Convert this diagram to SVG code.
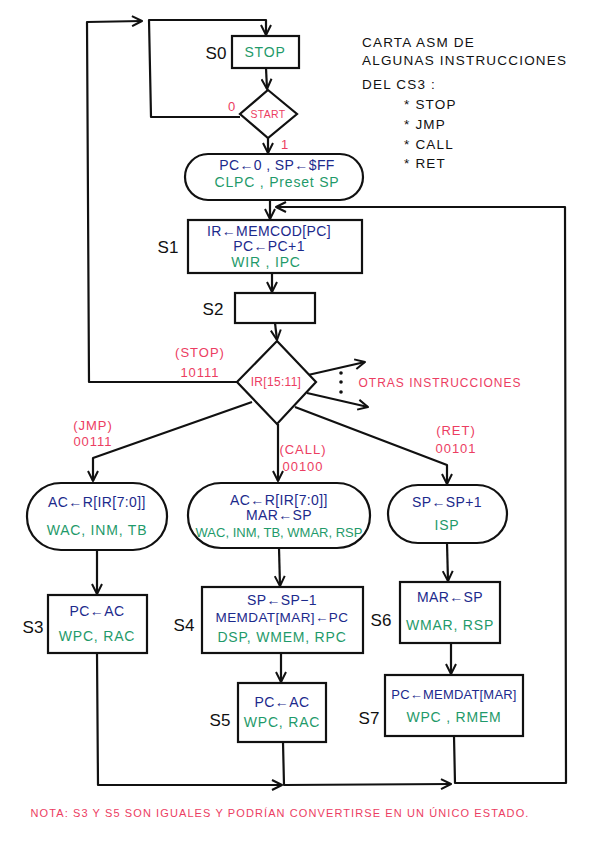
<svg xmlns="http://www.w3.org/2000/svg" width="599" height="848" viewBox="0 0 599 848">
<defs>
<marker id="ar" viewBox="0 0 12 12" refX="11" refY="6" markerWidth="12" markerHeight="12" markerUnits="userSpaceOnUse" orient="auto">
<path d="M1,1 L11,6 L1,11" fill="none" stroke="#111" stroke-width="2" stroke-linejoin="round"/>
</marker>
<style>
.ln{fill:none;stroke:#111;stroke-width:2.2;stroke-linejoin:round}
.bx{fill:#fff;stroke:#111;stroke-width:2.2}
.b{fill:#1c2a8c;font-family:"Liberation Sans",Arial,sans-serif;font-size:14px;text-anchor:middle;dominant-baseline:central;letter-spacing:0.4px}
.g{fill:#1f9a6a;font-family:"Liberation Sans",Arial,sans-serif;font-size:14px;text-anchor:middle;dominant-baseline:central;letter-spacing:0.8px}
.p{fill:#ec3d62;font-family:"Liberation Sans",Arial,sans-serif;font-size:13px;text-anchor:middle;dominant-baseline:central;letter-spacing:1px}
.k{fill:#111;font-family:"Liberation Sans",Arial,sans-serif;font-size:13.5px;dominant-baseline:central;letter-spacing:1.2px}
.s{fill:#111;font-family:"Liberation Sans",Arial,sans-serif;font-size:17px;text-anchor:middle;dominant-baseline:central}
</style>
</defs>
<rect width="599" height="848" fill="#fff"/>

<g id="connectors">
<path class="ln" d="M237,382 L89,382 L87,22 L142,21" marker-end="url(#ar)"/>
<path class="ln" d="M240,117 L151,117 L149,20 L266,20 L266,35" marker-end="url(#ar)"/>
<path class="ln" d="M266,68 L267,89" marker-end="url(#ar)"/>
<path class="ln" d="M268,138 L268,153" marker-end="url(#ar)"/>
<path class="ln" d="M270,200 L270,219" marker-end="url(#ar)"/>
<path class="ln" d="M272,273 L272,292" marker-end="url(#ar)"/>
<path class="ln" d="M275,323 L277,340" marker-end="url(#ar)"/>
<path class="ln" d="M252,402 L93,458 L93,481" marker-end="url(#ar)"/>
<path class="ln" d="M278,424 L278,481" marker-end="url(#ar)"/>
<path class="ln" d="M295,407 L447,465 L447,484" marker-end="url(#ar)"/>
<path class="ln" d="M308,375 L365,362" marker-end="url(#ar)"/>
<path class="ln" d="M307,393 L368,407" marker-end="url(#ar)"/>
<path class="ln" d="M97,550 L97,594" marker-end="url(#ar)"/>
<path class="ln" d="M279,548 L280,586" marker-end="url(#ar)"/>
<path class="ln" d="M281,653 L281,682" marker-end="url(#ar)"/>
<path class="ln" d="M447,543 L448,581" marker-end="url(#ar)"/>
<path class="ln" d="M451,643 L451,674" marker-end="url(#ar)"/>
<path class="ln" d="M97,653 L98,785 L282,785" marker-end="url(#ar)"/>
<path class="ln" d="M283,742 L284,785 L451,784" marker-end="url(#ar)"/>
<path class="ln" d="M454,736 L455,783 L566,783 L565,207 L276,207" marker-end="url(#ar)"/>
<circle cx="341" cy="373" r="1.8" fill="#111"/>
<circle cx="341" cy="382" r="1.8" fill="#111"/>
<circle cx="341" cy="392" r="1.8" fill="#111"/>
</g>

<g id="title">
<text class="k" x="362" y="42">CARTA ASM DE</text>
<text class="k" x="362" y="60">ALGUNAS INSTRUCCIONES</text>
<text class="k" x="362" y="84">DEL CS3 :</text>
<text class="k" x="404" y="104">* STOP</text>
<text class="k" x="404" y="124">* JMP</text>
<text class="k" x="404" y="144">* CALL</text>
<text class="k" x="404" y="163">* RET</text>
</g>

<g id="S0">
<rect class="bx" x="232" y="36" width="67" height="32"/>
<text class="g" x="265" y="52">STOP</text>
<text class="s" x="216" y="53">S0</text>
</g>

<g id="start">
<polygon class="bx" points="268,90 297,114 268,138 240,114"/>
<text class="p" x="268" y="114" style="font-size:10.5px;letter-spacing:0.3px">START</text>
<text class="p" x="232" y="106">0</text>
<text class="p" x="285" y="144">1</text>
</g>

<g id="init">
<rect class="bx" x="185" y="154" width="178" height="46" rx="23" ry="23"/>
<text class="b" x="277" y="165">PC←0 , SP←$FF</text>
<text class="g" x="277" y="182">CLPC , Preset SP</text>
</g>

<g id="S1">
<rect class="bx" x="188" y="220" width="174" height="53"/>
<text class="b" x="269" y="231">IR←MEMCOD[PC]</text>
<text class="b" x="269" y="246">PC←PC+1</text>
<text class="g" x="266" y="262">WIR , IPC</text>
<text class="s" x="168" y="247">S1</text>
</g>

<g id="S2">
<rect class="bx" x="235" y="293" width="80" height="30"/>
<text class="s" x="213" y="309">S2</text>
</g>

<g id="decode">
<polygon class="bx" points="277,341 316,382 277,424 237,382"/>
<text class="p" x="276" y="382" style="font-size:12px;letter-spacing:0.3px">IR[15:11]</text>
<text class="p" x="200" y="352">(STOP)</text>
<text class="p" x="200" y="372">10111</text>
<text class="p" x="93" y="425">(JMP)</text>
<text class="p" x="93" y="441">00111</text>
<text class="p" x="303" y="449">(CALL)</text>
<text class="p" x="303" y="466">00100</text>
<text class="p" x="456" y="430">(RET)</text>
<text class="p" x="456" y="448">00101</text>
<text class="p" x="440" y="383" style="font-size:12px">OTRAS INSTRUCCIONES</text>
</g>

<g id="jmp">
<rect class="bx" x="27" y="483" width="140" height="67" rx="34" ry="33"/>
<text class="b" x="97" y="502">AC←R[IR[7:0]]</text>
<text class="g" x="97" y="530">WAC, INM, TB</text>
</g>

<g id="S3">
<rect class="bx" x="48" y="595" width="99" height="58"/>
<text class="b" x="97" y="611">PC←AC</text>
<text class="g" x="97" y="636">WPC, RAC</text>
<text class="s" x="33" y="627">S3</text>
</g>

<g id="call">
<rect class="bx" x="188" y="483" width="182" height="65" rx="33" ry="32"/>
<text class="b" x="279" y="500">AC←R[IR[7:0]]</text>
<text class="b" x="279" y="515">MAR←SP</text>
<text class="g" x="279" y="532" style="font-size:13px;letter-spacing:0">WAC, INM, TB, WMAR, RSP</text>
</g>

<g id="S4">
<rect class="bx" x="202" y="587" width="161" height="66"/>
<text class="b" x="282" y="600">SP←SP−1</text>
<text class="b" x="282" y="617" style="font-size:13.5px">MEMDAT[MAR]←PC</text>
<text class="g" x="282" y="637">DSP, WMEM, RPC</text>
<text class="s" x="184" y="625">S4</text>
</g>

<g id="S5">
<rect class="bx" x="238" y="683" width="88" height="59"/>
<text class="b" x="282" y="702">PC←AC</text>
<text class="g" x="282" y="722">WPC, RAC</text>
<text class="s" x="220" y="720">S5</text>
</g>

<g id="ret">
<rect class="bx" x="388" y="485" width="119" height="58" rx="30" ry="29"/>
<text class="b" x="447" y="502">SP←SP+1</text>
<text class="g" x="447" y="525">ISP</text>
</g>

<g id="S6">
<rect class="bx" x="400" y="582" width="100" height="61"/>
<text class="b" x="450" y="597">MAR←SP</text>
<text class="g" x="450" y="625">WMAR, RSP</text>
<text class="s" x="381" y="620">S6</text>
</g>

<g id="S7">
<rect class="bx" x="385" y="675" width="138" height="61"/>
<text class="b" x="454" y="694" style="font-size:13px;letter-spacing:0.2px">PC←MEMDAT[MAR]</text>
<text class="g" x="454" y="717">WPC , RMEM</text>
<text class="s" x="369" y="718">S7</text>
</g>

<g id="note">
<text class="p" x="280" y="813" style="font-size:11px;letter-spacing:1.1px">NOTA:  S3 Y S5 SON IGUALES Y PODRÍAN CONVERTIRSE EN UN ÚNICO ESTADO.</text>
</g>
</svg>
